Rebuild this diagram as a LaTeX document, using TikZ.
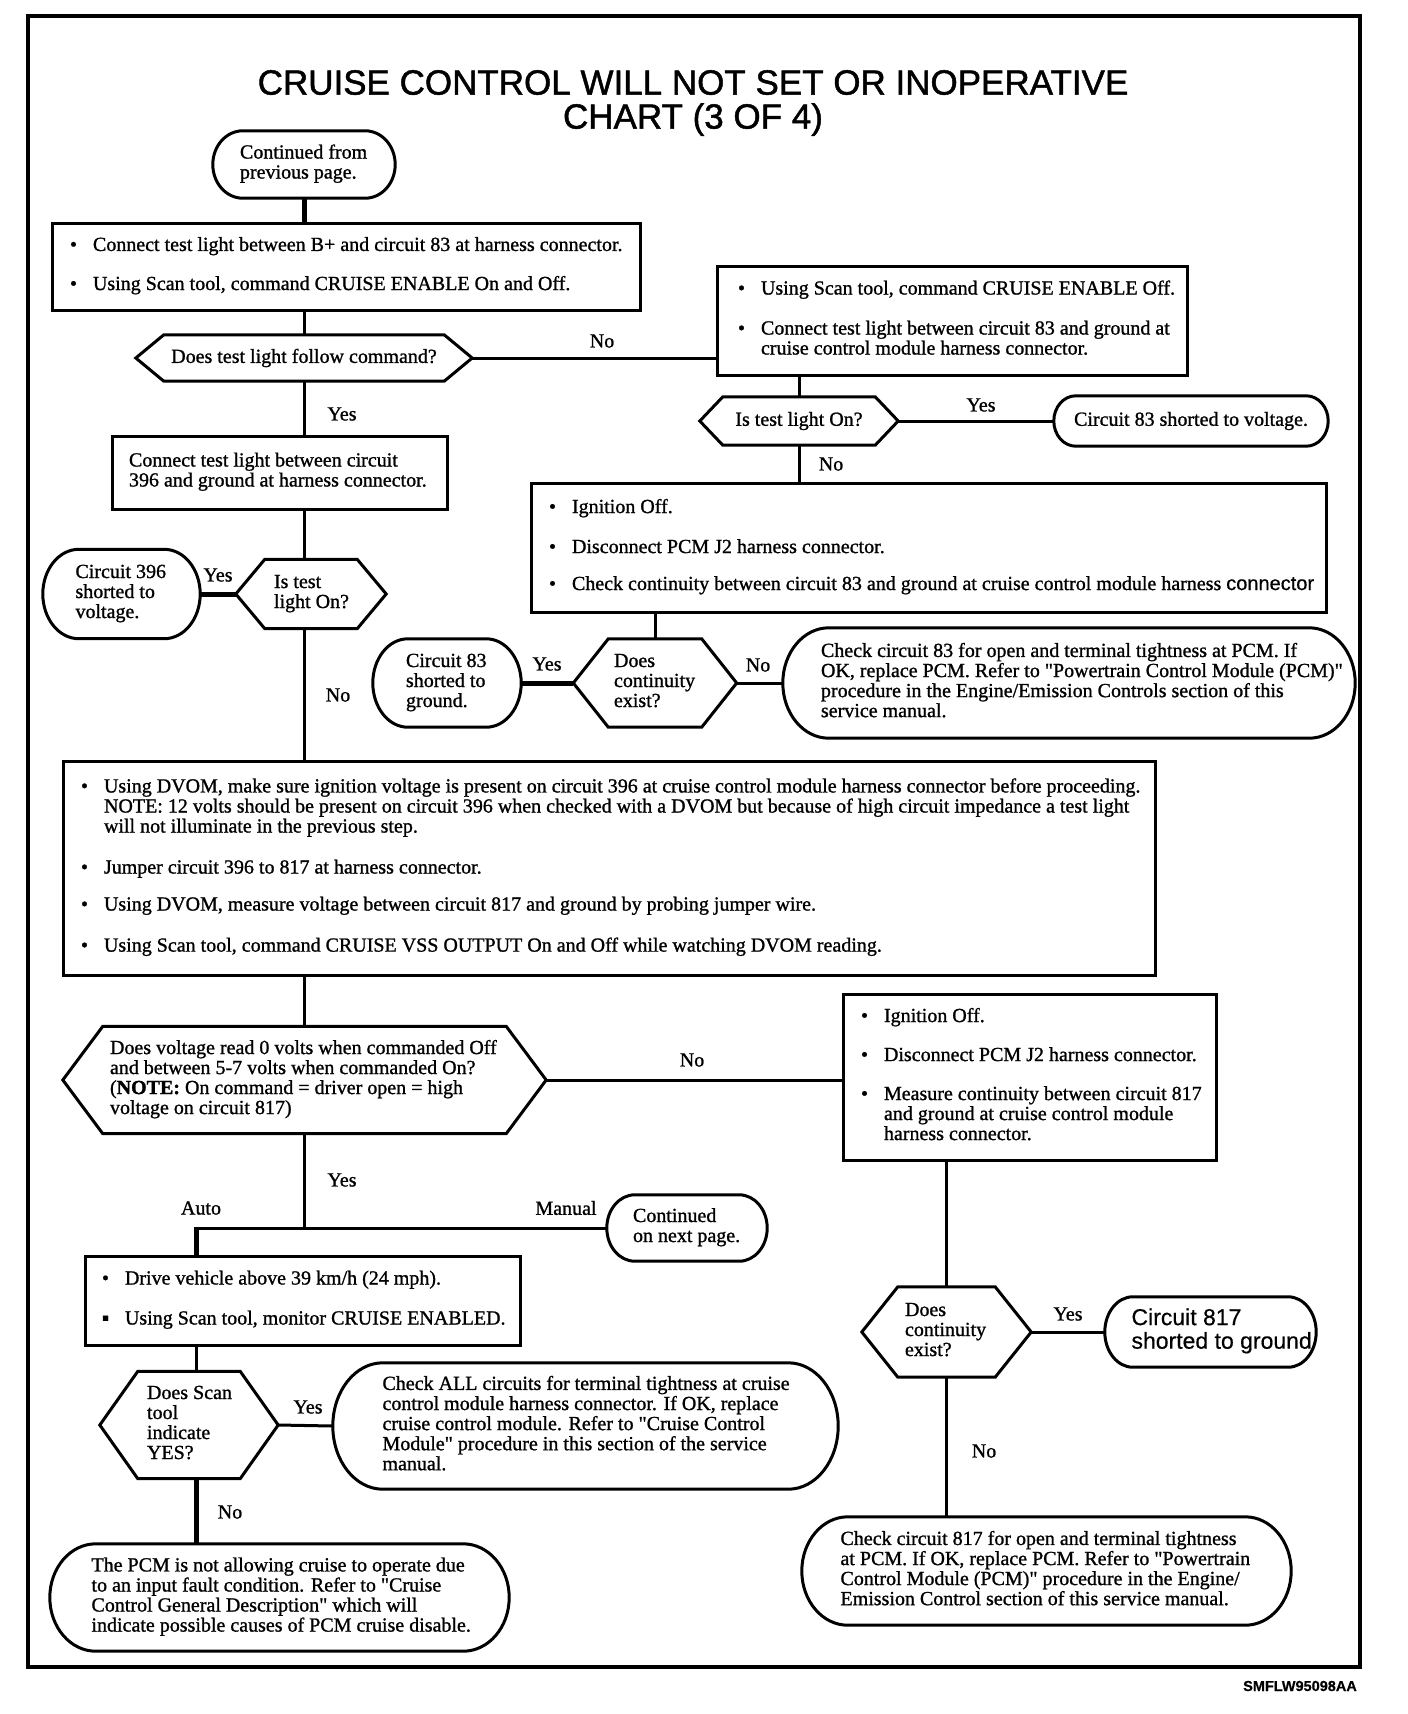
\documentclass[tikz,border=0pt]{standalone}
\usepackage{fontspec}
\setmainfont{Liberation Serif}[FakeBold=1.1, Ligatures=TeXOff]
\newfontfamily\sansf{Liberation Sans}[FakeBold=0.5]
\newfontfamily\titlef{Liberation Sans}[FakeBold=1.3]
\usetikzlibrary{calc}
\newcommand\bodyf{\fontsize{20}{20}\selectfont}
\newcommand\bl{\makebox[23pt][l]{\textbullet}}
\newcommand\ind{\hspace*{23pt}}
\newcommand\tb[2]{\makebox[#1pt][l]{\begin{tabular}{@{}l@{}}#2\end{tabular}}}
\newcommand\stadium[2]{%
  \draw[bd] let \p1=(#1.north east), \p2=(#1.south west), \n1={(\y1-\y2)/2} in
    (\x2+#2pt,\y1) -- (\x1-#2pt,\y1)
    arc[start angle=90, end angle=-90, x radius=#2pt, y radius=\n1]
    -- (\x2+#2pt,\y2)
    arc[start angle=270, end angle=90, x radius=#2pt, y radius=\n1] -- cycle;}
\newcommand\hexa[2]{%
  \draw[bd] let \p1=(#1.north east), \p2=(#1.south west) in
    (#1.west) -- (\x2+#2pt,\y1) -- (\x1-#2pt,\y1) -- (#1.east)
    -- (\x1-#2pt,\y2) -- (\x2+#2pt,\y2) -- cycle;}
\tikzset{
  bd/.style={line width=3pt},
  conn/.style={line width=3pt},
  thk/.style={line width=5pt},
  box/.style={draw, line width=3pt, inner sep=0pt, font=\bodyf},
  sh/.style={inner sep=0pt, font=\bodyf},
  lbl/.style={inner sep=0pt, font=\bodyf},
}
\begin{document}
\begin{tikzpicture}[x=1pt,y=-1pt]
\useasboundingbox (0,0) rectangle (1408,1714);
\draw[line width=4pt] (28,16) rectangle (1360,1667);

\node[inner sep=0pt, align=center, font=\titlef\fontsize{35}{34}\selectfont] (title) at (693,103)
  {CRUISE CONTROL WILL NOT SET OR INOPERATIVE\\CHART (3 OF 4)};
\node[inner sep=0pt, anchor=east, font=\sansf\bfseries\fontsize{14.5}{15}\selectfont] (code) at (1357,1686) {SMFLW95098AA};

\coordinate (sp) at (304,0);
\coordinate (jn) at (196,1228);

% ---- nodes ----
\node[sh, minimum width=182pt, minimum height=67pt] (cont1) at (304,164.5)
  {\tb{128}{Continued from\\previous page.}};

\node[box, minimum width=588pt, minimum height=87pt] (box1) at (346,266.5)
  {\tb{552}{\bl Connect test light between B+ and circuit 83 at harness connector.\\[19pt]
   \bl Using Scan tool, command CRUISE ENABLE On and Off.}};

\node[sh, minimum width=336pt, minimum height=46pt] (hex1) at (304,358) {Does test light follow command?};

\node[box, minimum width=470pt, minimum height=109pt] (box2) at (952,320.5)
  {\tb{428}{\bl Using Scan tool, command CRUISE ENABLE Off.\\[20pt]
   \bl Connect test light between circuit 83 and ground at\\
   \ind cruise control module harness connector.}};

\node[sh, minimum width=198pt, minimum height=48pt] (hex2) at (799,421) {Is test light On?};
\node[sh, minimum width=274pt, minimum height=50pt] (c83v) at (1191,421) {Circuit 83 shorted to voltage.};

\node[box, minimum width=335pt, minimum height=73pt] (box3) at (279.5,472.5)
  {\tb{301}{Connect test light between circuit\\396 and ground at harness connector.}};

\node[box, minimum width=795pt, minimum height=129pt] (box4) at (928.5,547.5)
  {\tb{759}{\bl Ignition Off.\\[20pt]
   \bl Disconnect PCM J2 harness connector.\\[17pt]
   \bl Check continuity between circuit 83 and ground at cruise control module harness {\sansf connector}}};

\node[sh, minimum width=157pt, minimum height=89pt] (c396) at (121.5,594) {\tb{92}{Circuit 396\\shorted to\\voltage.}};
\node[sh, minimum width=150pt, minimum height=69pt] (hex3) at (311,594) {\tb{74}{Is test\\light On?}};

\node[sh, minimum width=148pt, minimum height=88pt] (c83g) at (447,683) {\tb{82}{Circuit 83\\shorted to\\ground.}};
\node[sh, minimum width=163pt, minimum height=88pt] (hex4) at (655,683) {\tb{82}{Does\\continuity\\exist?}};
\node[sh, minimum width=572pt, minimum height=110pt] (pcm1) at (1069,683)
  {\tb{496}{Check circuit 83 for open and terminal tightness at PCM. If\\
   OK, replace PCM. Refer to "Powertrain Control Module (PCM)"\\
   procedure in the Engine/Emission Controls section of this\\
   service manual.}};

\node[box, minimum width=1092pt, minimum height=214pt] (bigbox) at (609,868)
  {\tb{1056}{\bl Using DVOM, make sure ignition voltage is present on circuit 396 at cruise control module harness connector before proceeding.\\
   \ind NOTE: 12 volts should be present on circuit 396 when checked with a DVOM but because of high circuit impedance a test light\\
   \ind will not illuminate in the previous step.\\[21pt]
   \bl Jumper circuit 396 to 817 at harness connector.\\[17pt]
   \bl Using DVOM, measure voltage between circuit 817 and ground by probing jumper wire.\\[21pt]
   \bl Using Scan tool, command CRUISE VSS OUTPUT On and Off while watching DVOM reading.}};

\node[sh, minimum width=483pt, minimum height=107pt] (hex5) at (304.5,1080)
  {\tb{389}{Does voltage read 0 volts when commanded Off\\
   and between 5-7 volts when commanded On?\\
   (\textbf{NOTE:} On command = driver open = high\\
   voltage on circuit 817)}};

\node[box, minimum width=373pt, minimum height=166pt] (box5) at (1029.5,1077)
  {\tb{337}{\bl Ignition Off.\\[19pt]
   \bl Disconnect PCM J2 harness connector.\\[19pt]
   \bl Measure continuity between circuit 817\\
   \ind and ground at cruise control module\\
   \ind harness connector.}};

\node[sh, minimum width=160pt, minimum height=66pt] (contnext) at (687,1228) {\tb{108}{Continued\\on next page.}};

\node[box, minimum width=435pt, minimum height=89pt] (box6) at (302.5,1300.5)
  {\tb{401}{\bl Drive vehicle above 39 km/h (24 mph).\\[20pt]
   \makebox[23pt][l]{▪}Using Scan tool, monitor CRUISE ENABLED.}};

\node[sh, minimum width=178pt, minimum height=107pt] (hex6) at (189,1425) {\tb{84}{Does Scan\\tool\\indicate\\YES?}};
\node[sh, minimum width=505pt, minimum height=126pt] (all) at (585.5,1426)
  {\tb{406}{Check ALL circuits for terminal tightness at cruise\\
   control module harness connector. If OK, replace\\
   cruise control module. Refer to "Cruise Control\\
   Module" procedure in this section of the service\\
   manual.}};
\node[sh, minimum width=459pt, minimum height=107pt] (pcmnot) at (279.5,1597.5)
  {\tb{376}{The PCM is not allowing cruise to operate due\\
   to an input fault condition. Refer to "Cruise\\
   Control General Description" which will\\
   indicate possible causes of PCM cruise disable.}};

\node[sh, minimum width=169pt, minimum height=90pt] (hex7) at (946.5,1332) {\tb{83}{Does\\continuity\\exist?}};
\node[sh, minimum width=211pt, minimum height=70pt, font=\sansf\fontsize{23}{23}\selectfont] (c817) at (1210.5,1332) {\tb{158}{Circuit 817\\shorted to ground}};
\node[sh, minimum width=489pt, minimum height=108pt] (pcm2) at (1046.5,1571)
  {\tb{412}{Check circuit 817 for open and terminal tightness\\
   at PCM. If OK, replace PCM. Refer to "Powertrain\\
   Control Module (PCM)" procedure in the Engine/\\
   Emission Control section of this service manual.}};

% ---- shapes ----
\stadium{cont1}{30}
\hexa{hex1}{28}
\hexa{hex2}{23}
\stadium{c83v}{22}
\stadium{c396}{36}
\hexa{hex3}{29}
\stadium{c83g}{35}
\hexa{hex4}{35}
\stadium{pcm1}{46}
\hexa{hex5}{40}
\stadium{contnext}{28}
\hexa{hex6}{38}
\stadium{all}{50}
\stadium{pcmnot}{46}
\hexa{hex7}{36}
\stadium{c817}{28}
\stadium{pcm2}{46}

% ---- connectors ----
\draw[thk] (cont1.south) -- (cont1.south |- box1.north);
\draw[conn] (box1.south -| sp) -- (hex1.north);
\draw[conn] (hex1.east) -- (hex1.east -| box2.west);
\draw[conn] (hex1.south) -- (hex1.south |- box3.north);
\draw[conn] (hex2.north |- box2.south) -- (hex2.north);
\draw[conn] (hex2.east) -- (c83v.west);
\draw[conn] (hex2.south) -- (hex2.south |- box4.north);
\draw[conn] (box3.south -| sp) -- (hex3.north -| sp);
\draw[thk] (c396.east) -- (hex3.west);
\draw[conn] (hex3.south -| sp) -- (bigbox.north -| sp);
\draw[conn] (hex4.north |- box4.south) -- (hex4.north);
\draw[thk] (c83g.east) -- (hex4.west);
\draw[conn] (hex4.east) -- (pcm1.west);
\draw[conn] (bigbox.south -| sp) -- (hex5.north -| sp);
\draw[conn] (hex5.east) -- (hex5.east -| box5.west);
\draw[conn] (hex5.south -| sp) -- (jn -| sp);
\draw[conn] (jn) -- (contnext.west);
\draw[thk] ($(jn)+(0,-1.5)$) -- (jn |- box6.north);
\draw[conn] (box6.south -| jn) -- (hex6.north -| jn);
\draw[conn] (hex6.east) -- (all.west);
\draw[thk] (hex6.south -| jn) -- (pcmnot.north -| jn);
\draw[conn] (hex7.north |- box5.south) -- (hex7.north);
\draw[conn] (hex7.east) -- (c817.west);
\draw[conn] (hex7.south) -- (hex7.south |- pcm2.north);

% ---- labels ----
\node[lbl] (lno1) at (602,341) {No};
\node[lbl] (lyes1) at (342,414) {Yes};
\node[lbl] (lyes2) at (981,405) {Yes};
\node[lbl] (lno2) at (831,464) {No};
\node[lbl] (lyes3) at (218,575) {Yes};
\node[lbl] (lno3) at (338,695) {No};
\node[lbl] (lyes4) at (547,664) {Yes};
\node[lbl] (lno4) at (758,665) {No};
\node[lbl] (lno5) at (692,1060) {No};
\node[lbl] (lyes5) at (342,1180) {Yes};
\node[lbl] (lauto) at (201,1208) {Auto};
\node[lbl] (lman) at (566,1208) {Manual};
\node[lbl] (lyes6) at (308,1407) {Yes};
\node[lbl] (lno6) at (230,1512) {No};
\node[lbl] (lyes7) at (1068,1314) {Yes};
\node[lbl] (lno7) at (984,1451) {No};
\end{tikzpicture}
\end{document}
